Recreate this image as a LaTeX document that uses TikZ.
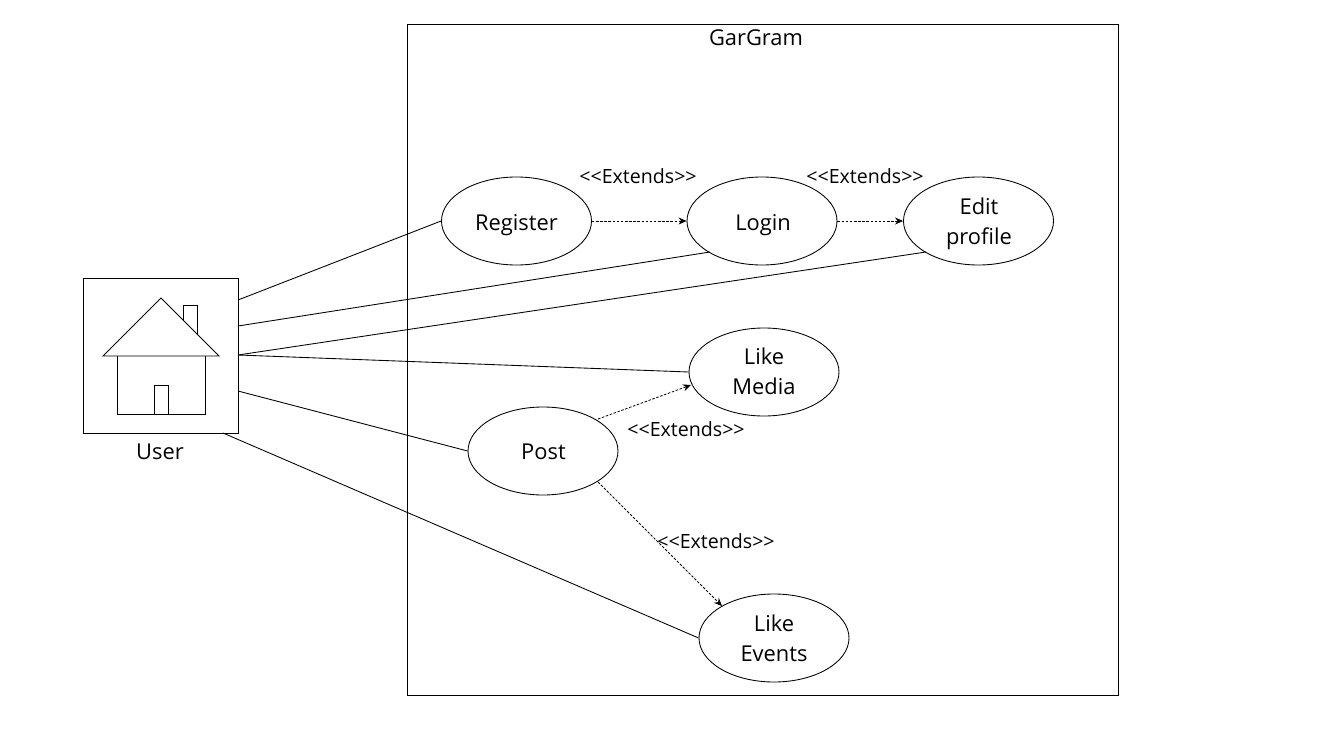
\documentclass[tikz,border=0pt]{standalone}
\usepackage{fontspec}
\setmainfont{Open Sans}
\usetikzlibrary{arrows.meta,shapes.geometric}
\newcommand{\ltlt}{<\kern0pt<}
\newcommand{\gtgt}{>\kern0pt>}
\tikzset{
  line/.style={draw=black,line width=0.65pt},
  usecase/.style={ellipse,draw=black,line width=0.65pt,minimum width=112.5pt,minimum height=66pt,inner sep=0pt},
  casetext/.style={inner sep=0pt,align=center,font=\fontsize{16.4}{22.5}\selectfont},
  ext/.style={draw=black,line width=0.6pt,dash pattern=on 1.9pt off 1.2pt,-{Stealth[length=6pt,width=5.2pt]}},
  lab/.style={inner sep=0pt,font=\fontsize{14.7}{16}\selectfont},
}
\begin{document}
\begin{tikzpicture}[x=0.75pt,y=-0.75pt]
\useasboundingbox (0,0) rectangle (1342,753);
\fill[white] (0,0) rectangle (1342,753);
\node[line,rectangle,minimum width=533pt,minimum height=503.25pt,inner sep=0pt] (sys) at (763,360) {};
\node[lab,font=\fontsize{16.4}{18}\selectfont] (title) at (756,38) {GarGram};
\node[line,rectangle,minimum width=116.25pt,minimum height=116.25pt,inner sep=0pt] (actor) at (161,356) {};
\draw[line] (103,356) -- (161,298) -- (219,356) -- cycle;
\draw[line] (117,356) -- (117,414) -- (205,414) -- (205,356);
\draw[line] (154,414) -- (154,385) -- (168,385) -- (168,414);
\draw[line] (183,320) -- (183,305) -- (197,305) -- (197,334);
\node[lab,font=\fontsize{16.4}{18}\selectfont] (userl) at (160,452) {User};
\node[usecase] (reg) at (516.5,221) {};
\node[usecase] (login) at (762,221) {};
\node[usecase] (edit) at (978.5,221) {};
\node[usecase] (media) at (764,372) {};
\node[usecase] (post) at (543,451) {};
\node[usecase] (events) at (774,638) {};
\node[casetext] (regt) at (516.5,225) {Register};
\node[casetext] (logint) at (763,225) {Login};
\node[casetext] (editt) at (979,224) {Edit\\profile};
\node[casetext] (mediat) at (764,371) {Like\\Media};
\node[casetext] (postt) at (543.5,452) {Post};
\node[casetext] (eventst) at (774,638) {Like\\Events};
\coordinate (a1) at (238,300);
\coordinate (a2) at (238,326);
\coordinate (a3) at (238,355);
\coordinate (a4) at (238,391);
\coordinate (a5) at (223,433);
\coordinate (l2) at (710,252);
\coordinate (l3) at (926,252);
\coordinate (p1) at (598,419);
\coordinate (m1) at (691,385);
\coordinate (p2) at (598,482);
\coordinate (v2) at (722,606);
\draw[line] (a1) -- (reg.west);
\draw[line] (a2) -- (l2);
\draw[line] (a3) -- (l3);
\draw[line] (a3) -- (media.west);
\draw[line] (a4) -- (post.west);
\draw[line] (a5) -- (events.west);
\draw[ext] (reg.east) -- (login.west);
\draw[ext] (login.east) -- (edit.west);
\draw[ext] (p1) -- (m1);
\draw[ext] (p2) -- (v2);
\node[lab] (e1) at (638,176.5) {\ltlt Extends\gtgt};
\node[lab] (e2) at (865,176.5) {\ltlt Extends\gtgt};
\node[lab] (e3) at (686,429.5) {\ltlt Extends\gtgt};
\node[lab] (e4) at (716,541.5) {\ltlt Extends\gtgt};
\end{tikzpicture}
\end{document}
